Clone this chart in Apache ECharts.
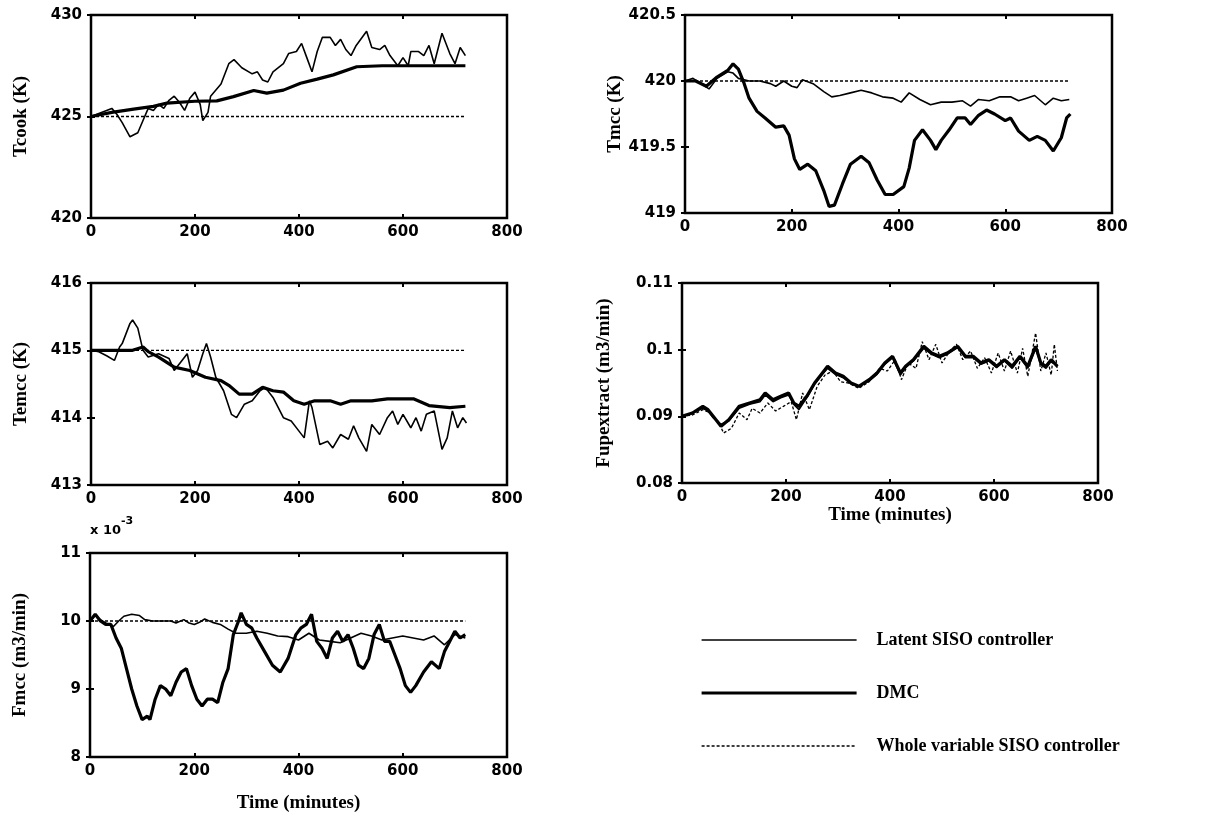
<!DOCTYPE html>
<html>
<head>
<meta charset="utf-8">
<script src="https://cdn.jsdelivr.net/npm/echarts@6/dist/echarts.min.js"></script>
<style>
  html, body { margin: 0; padding: 0; background: #fff; }
  #chart { width: 1214px; height: 823px; }
</style>
</head>
<body>
<div id="chart"></div>
<script>
// time axis ticks (minutes)
var timeTicks = [0, 200, 400, 600, 800];
var seriesNames = ["Latent SISO controller", "DMC", "Whole variable SISO controller"];

// Tcook (K)
var tcookLatent = [[0,425],[20,425.2],[40,425.4],[50,425.1],[60,424.7],[75,424],[90,424.2],[100,424.8],[110,425.4],[120,425.3],[130,425.6],[140,425.4],[150,425.8],[160,426],[170,425.7],[180,425.3],[190,425.9],[200,426.2],[210,425.6],[215,424.8],[225,425.2],[230,426],[250,426.6],[265,427.6],[275,427.8],[290,427.4],[310,427.1],[320,427.2],[330,426.8],[340,426.7],[350,427.2],[370,427.6],[380,428.1],[395,428.2],[405,428.6],[415,427.9],[425,427.2],[435,428.2],[445,428.9],[460,428.9],[470,428.5],[480,428.8],[490,428.3],[500,428],[510,428.5],[530,429.2],[540,428.4],[555,428.3],[565,428.5],[575,428],[590,427.5],[600,427.9],[610,427.5],[615,428.2],[630,428.2],[640,428],[650,428.5],[660,427.6],[675,429.1],[690,428.1],[700,427.6],[710,428.4],[720,428]];
var tcookDmc = [[0,425],[40,425.2],[82,425.36],[120,425.5],[146,425.66],[200,425.75],[242,425.77],[274,425.98],[313,426.28],[338,426.15],[370,426.3],[403,426.64],[435,426.84],[466,427.05],[511,427.45],[560,427.5],[720,427.5]];
var tcookWhole = [[0,425],[720,425]];

// Tmcc (K)
var tmccLatent = [[0,420],[15,420.02],[30,419.98],[45,419.94],[60,420.02],[80,420.07],[90,420.06],[100,420.02],[120,420],[140,420],[160,419.98],[170,419.96],[185,420],[200,419.96],[210,419.95],[220,420.01],[240,419.98],[260,419.92],[275,419.88],[290,419.89],[310,419.91],[330,419.93],[350,419.91],[370,419.88],[390,419.87],[405,419.84],[420,419.91],[440,419.86],[460,419.82],[480,419.84],[500,419.84],[520,419.85],[535,419.81],[550,419.86],[570,419.85],[590,419.88],[610,419.88],[625,419.85],[640,419.87],[655,419.89],[675,419.82],[690,419.87],[705,419.85],[720,419.86]];
var tmccDmc = [[0,420],[20,420],[40,419.96],[60,420.03],[80,420.08],[90,420.13],[100,420.09],[110,419.99],[120,419.87],[135,419.77],[150,419.72],[170,419.65],[185,419.66],[195,419.59],[205,419.41],[215,419.33],[230,419.37],[245,419.32],[260,419.17],[270,419.05],[280,419.06],[295,419.22],[310,419.37],[330,419.43],[345,419.38],[360,419.25],[375,419.14],[390,419.14],[410,419.2],[420,419.34],[430,419.55],[445,419.63],[460,419.55],[470,419.48],[480,419.55],[495,419.63],[510,419.72],[525,419.72],[535,419.67],[550,419.74],[565,419.78],[580,419.75],[600,419.7],[610,419.72],[625,419.62],[645,419.55],[660,419.58],[675,419.55],[690,419.47],[705,419.57],[715,419.72],[722,419.75]];
var tmccWhole = [[0,420],[720,420]];

// Temcc (K)
var temccLatent = [[0,415],[15,414.98],[30,414.92],[45,414.85],[55,415.05],[60,415.1],[75,415.4],[80,415.45],[90,415.33],[100,415],[110,414.9],[130,414.95],[150,414.88],[160,414.7],[175,414.85],[185,414.95],[195,414.6],[205,414.7],[215,414.95],[222,415.1],[230,414.9],[240,414.6],[255,414.4],[270,414.05],[280,414],[295,414.2],[310,414.25],[325,414.4],[335,414.45],[350,414.3],[370,414],[385,413.95],[400,413.8],[410,413.7],[420,414.25],[425,414.15],[440,413.6],[455,413.65],[465,413.55],[480,413.75],[495,413.68],[505,413.88],[515,413.7],[530,413.5],[540,413.9],[555,413.75],[570,414],[580,414.1],[590,413.9],[600,414.05],[615,413.85],[625,414],[635,413.8],[645,414.05],[660,414.1],[675,413.53],[685,413.7],[695,414.1],[705,413.85],[715,414],[722,413.92]];
var temccDmc = [[0,415],[50,415],[80,415],[100,415.05],[110,414.98],[130,414.9],[160,414.75],[190,414.7],[220,414.6],[250,414.55],[265,414.48],[285,414.35],[310,414.35],[330,414.45],[350,414.4],[370,414.38],[390,414.25],[410,414.2],[430,414.25],[460,414.25],[480,414.2],[500,414.25],[540,414.25],[570,414.28],[620,414.28],[650,414.18],[690,414.15],[720,414.17]];
var temccWhole = [[0,415],[720,415]];

// Fupextract (m3/min)
var fupLatent = [[0,0.09],[20,0.0905],[40,0.0912],[50,0.0908],[60,0.0898],[75,0.0888],[90,0.0893],[110,0.0912],[130,0.0918],[150,0.0922],[160,0.0932],[175,0.0922],[190,0.0928],[205,0.0932],[215,0.0918],[225,0.091],[240,0.0928],[255,0.0948],[270,0.0963],[280,0.0972],[295,0.0963],[310,0.0958],[325,0.0949],[340,0.0945],[360,0.0953],[375,0.0963],[390,0.0978],[405,0.0988],[420,0.0962],[430,0.0973],[445,0.0983],[465,0.1002],[480,0.0993],[495,0.0988],[510,0.0993],[530,0.1003],[545,0.0988],[560,0.0988],[575,0.0978],[590,0.0983],[605,0.0973],[620,0.0983],[635,0.0972],[650,0.0988],[665,0.0972],[680,0.1002],[690,0.0978],[700,0.0972],[710,0.0983],[722,0.0975]];
var fupDmc = [[0,0.09],[20,0.0905],[40,0.0915],[50,0.091],[60,0.09],[75,0.0885],[90,0.0895],[110,0.0915],[130,0.092],[150,0.0925],[160,0.0935],[175,0.0925],[190,0.093],[205,0.0935],[215,0.092],[225,0.0915],[240,0.093],[255,0.095],[270,0.0965],[280,0.0975],[295,0.0965],[310,0.096],[325,0.095],[340,0.0945],[360,0.0955],[375,0.0965],[390,0.098],[405,0.099],[420,0.0965],[430,0.0975],[445,0.0985],[465,0.1005],[480,0.0995],[495,0.099],[510,0.0995],[530,0.1005],[545,0.099],[560,0.099],[575,0.098],[590,0.0985],[605,0.0975],[620,0.0985],[635,0.0975],[650,0.099],[665,0.0975],[680,0.1005],[690,0.098],[700,0.0975],[710,0.0985],[722,0.0975]];
var fupWhole = [[0,0.09],[20,0.0902],[40,0.091],[55,0.0905],[70,0.0892],[80,0.0875],[95,0.0882],[110,0.0905],[125,0.0895],[135,0.0912],[150,0.0905],[165,0.092],[180,0.0908],[195,0.0915],[210,0.0922],[220,0.0895],[232,0.0935],[245,0.091],[260,0.0945],[275,0.0962],[290,0.0968],[305,0.0952],[320,0.095],[340,0.0942],[360,0.0952],[380,0.0972],[395,0.0968],[410,0.0985],[422,0.0955],[435,0.098],[450,0.0972],[462,0.1012],[475,0.0985],[488,0.1008],[500,0.098],[515,0.0998],[528,0.1008],[540,0.0985],[555,0.0998],[568,0.0972],[582,0.0988],[595,0.0965],[608,0.0995],[620,0.0968],[632,0.0998],[645,0.0965],[655,0.1002],[665,0.096],[680,0.1025],[690,0.0968],[700,0.0995],[710,0.0962],[716,0.1008],[722,0.0968]];

// Fmcc (x 10^-3 m3/min)
var fmccLatent = [[0,10],[10,10.08],[20,10.02],[30,9.97],[45,9.92],[55,10],[65,10.07],[80,10.1],[95,10.08],[105,10.02],[120,10],[140,10],[155,10],[165,9.97],[180,10.02],[190,9.97],[200,9.95],[210,9.98],[220,10.03],[235,9.98],[250,9.95],[265,9.88],[280,9.82],[300,9.82],[320,9.85],[340,9.82],[360,9.78],[380,9.77],[400,9.72],[420,9.82],[440,9.72],[460,9.7],[480,9.68],[500,9.75],[520,9.82],[540,9.78],[560,9.72],[580,9.75],[600,9.78],[620,9.75],[640,9.72],[660,9.78],[680,9.65],[700,9.8],[720,9.75]];
var fmccDmc = [[0,10],[10,10.1],[20,10],[30,9.95],[40,9.95],[50,9.75],[60,9.6],[70,9.3],[80,9],[90,8.75],[100,8.55],[110,8.6],[115,8.55],[125,8.85],[135,9.05],[145,9],[155,8.9],[165,9.1],[175,9.25],[185,9.3],[195,9.05],[205,8.85],[215,8.75],[225,8.85],[235,8.85],[245,8.8],[255,9.1],[265,9.3],[275,9.8],[285,10],[290,10.12],[300,9.95],[310,9.9],[320,9.75],[335,9.55],[350,9.35],[365,9.25],[380,9.45],[395,9.8],[405,9.9],[415,9.95],[425,10.1],[435,9.7],[445,9.6],[455,9.45],[465,9.75],[475,9.85],[485,9.7],[495,9.8],[505,9.6],[515,9.35],[525,9.3],[535,9.45],[545,9.8],[555,9.95],[565,9.7],[575,9.7],[585,9.5],[595,9.3],[605,9.05],[615,8.95],[625,9.05],[640,9.25],[655,9.4],[670,9.3],[680,9.55],[690,9.7],[700,9.85],[710,9.75],[720,9.8]];
var fmccWhole = [[0,10],[720,10]];

var panels = [
	{ name: "Tcook (K)", min: 420, max: 430, interval: 5, gap: 60, grid: { left: 91, top: 15, width: 416, height: 203 }, data: [tcookLatent, tcookDmc, tcookWhole] },
	{ name: "Tmcc (K)", min: 419, max: 420.5, interval: 0.5, gap: 58, grid: { left: 685, top: 15, width: 427, height: 198 }, data: [tmccLatent, tmccDmc, tmccWhole] },
	{ name: "Temcc (K)", min: 413, max: 416, interval: 1, gap: 60, grid: { left: 91, top: 283, width: 416, height: 202 }, data: [temccLatent, temccDmc, temccWhole] },
	{ name: "Fupextract (m3/min)", min: 0.08, max: 0.11, interval: 0.01, gap: 68, grid: { left: 682, top: 283, width: 416, height: 200 }, data: [fupLatent, fupDmc, fupWhole], xName: "Time (minutes)", xGap: 20 },
	{ name: "Fmcc (m3/min)", min: 8, max: 11, interval: 1, gap: 60, grid: { left: 90, top: 553, width: 417, height: 204 }, data: [fmccLatent, fmccDmc, fmccWhole], xName: "Time (minutes)", xGap: 37 },
];

var tickFont = { color: "#000", fontFamily: "DejaVu Sans", fontWeight: "bold", fontSize: 15 };
var serifFont = { color: "#000", fontFamily: "Liberation Serif", fontWeight: "bold", fontSize: 19 };
var lineStyles = [
	{ color: "#000", width: 1.6, type: "solid" },
	{ color: "#000", width: 3.2, type: "solid" },
	{ color: "#000", width: 1.3, type: [3, 2] },
];

var grids = [], xAxes = [], yAxes = [], series = [];
panels.forEach(function (p, i) {
	grids.push(Object.assign({ show: true, borderColor: "#000", borderWidth: 2.5, backgroundColor: "#fff" }, p.grid));
	var xBase = {
		type: "value", gridIndex: i, min: 0, max: 800, interval: 200,
		axisLine: { show: false }, splitLine: { show: false },
		axisTick: { inside: true, length: 4, lineStyle: { color: "#000", width: 2 } },
	};
	xAxes.push(Object.assign({}, xBase, {
		position: "bottom",
		axisLabel: Object.assign({ margin: 7 }, tickFont),
		name: p.xName || "", nameLocation: "middle", nameGap: p.xGap || 0,
		nameTextStyle: Object.assign({ verticalAlign: "top" }, serifFont),
	}));
	xAxes.push(Object.assign({}, xBase, { position: "top", axisLabel: { show: false } }));
	var yBase = {
		type: "value", gridIndex: i, min: p.min, max: p.max, interval: p.interval,
		axisLine: { show: false }, splitLine: { show: false },
		axisTick: { inside: true, length: 4, lineStyle: { color: "#000", width: 2 } },
	};
	yAxes.push(Object.assign({}, yBase, {
		position: "left",
		axisLabel: Object.assign({ margin: 9 }, tickFont),
		name: p.name, nameLocation: "middle", nameGap: p.gap, nameRotate: 90,
		nameTextStyle: serifFont,
	}));
	yAxes.push(Object.assign({}, yBase, { position: "right", axisLabel: { show: false } }));
	p.data.forEach(function (d, k) {
		series.push({
			name: seriesNames[k], type: "line", xAxisIndex: 2 * i, yAxisIndex: 2 * i,
			data: d, showSymbol: false, symbol: "none", lineStyle: lineStyles[k],
			itemStyle: { color: "#000" }, z: 3 - k,
		});
	});
});

var myChart = echarts.init(document.getElementById("chart"), null, { renderer: "canvas" });
var option = {
	backgroundColor: "#fff",
	animation: false,
	grid: grids,
	xAxis: xAxes,
	yAxis: yAxes,
	series: series,
	legend: {
		orient: "vertical", left: 695, top: 626,
		itemWidth: 155, itemHeight: 14, itemGap: 35,
		data: seriesNames.map(function (n, k) {
			return { name: n, itemStyle: { opacity: 0 }, lineStyle: lineStyles[k] };
		}),
		textStyle: Object.assign({ padding: [0, 0, 0, 15] }, serifFont, { fontSize: 18 }),
		selectedMode: false,
	},
	graphic: [{
		type: "text", left: 90, top: 516,
		style: {
			text: "{b|x 10}{s|-3}",
			rich: {
				b: { fontFamily: "DejaVu Sans", fontWeight: "bold", fontSize: 13, fill: "#000", padding: [8, 0, 0, 0] },
				s: { fontFamily: "DejaVu Sans", fontWeight: "bold", fontSize: 11, fill: "#000", verticalAlign: "top" },
			},
		},
	}],
};
option && myChart.setOption(option);
</script>
</body>
</html>
